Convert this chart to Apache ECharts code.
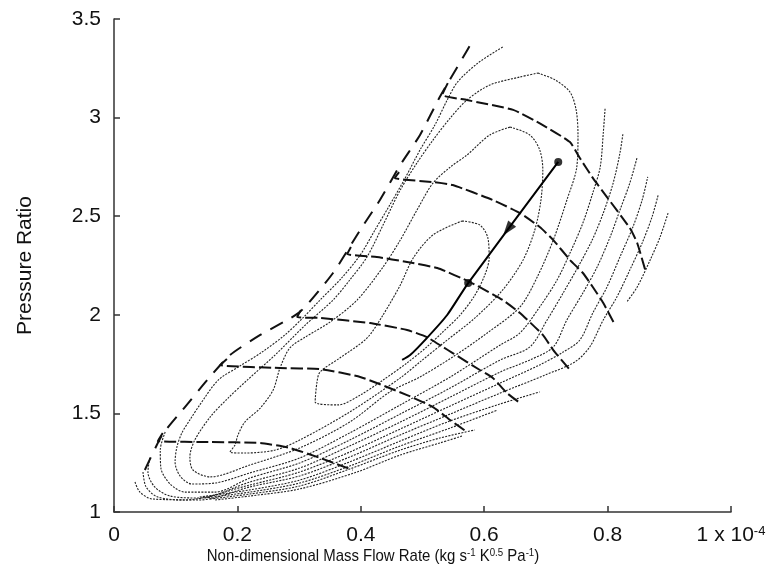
<!DOCTYPE html>
<html>
<head>
<meta charset="utf-8">
<script src="https://cdn.jsdelivr.net/npm/echarts@6/dist/echarts.min.js"></script>
<style>html,body{margin:0;padding:0;background:#fff}#c{width:773px;height:572px}</style>
</head>
<body>
<div id="c"></div>
<script>
// ---- axis ticks ----
const xTicks = [0, 0.2, 0.4, 0.6, 0.8, 1];
const yTicks = [1, 1.5, 2, 2.5, 3, 3.5];

// ---- surge line ----
const surge = [[0.050,1.213],[0.078,1.390],[0.115,1.532],[0.151,1.669],[0.188,1.796],[0.237,1.898],[0.301,2.014],[0.355,2.212],[0.399,2.430],[0.431,2.582],[0.464,2.760],[0.496,2.912],[0.528,3.104],[0.566,3.307],[0.580,3.383]];

// ---- speed lines ----
const speed1 = [[0.541,3.175],[0.532,3.115],[0.572,3.089],[0.647,3.039],[0.695,2.962],[0.739,2.876],[0.755,2.795],[0.776,2.694],[0.799,2.597],[0.836,2.440],[0.848,2.364],[0.861,2.227]];
const speed2 = [[0.462,2.724],[0.455,2.694],[0.517,2.673],[0.549,2.658],[0.614,2.582],[0.658,2.516],[0.690,2.445],[0.712,2.379],[0.739,2.278],[0.760,2.212],[0.776,2.141],[0.793,2.060],[0.812,1.948]];
const speed3 = [[0.384,2.344],[0.378,2.308],[0.426,2.293],[0.475,2.268],[0.524,2.237],[0.577,2.166],[0.630,2.075],[0.658,2.009],[0.695,1.898],[0.712,1.821],[0.739,1.720]];
const speed4 = [[0.303,2.024],[0.297,1.989],[0.334,1.984],[0.415,1.958],[0.475,1.923],[0.507,1.887],[0.533,1.837],[0.549,1.806],[0.593,1.720],[0.614,1.680],[0.637,1.603],[0.658,1.553]];
const speed5 = [[0.183,1.776],[0.172,1.745],[0.269,1.730],[0.334,1.725],[0.399,1.685],[0.475,1.593],[0.517,1.532],[0.545,1.466],[0.572,1.406]];
const speed6 = [[0.079,1.401],[0.071,1.360],[0.156,1.355],[0.237,1.350],[0.285,1.325],[0.334,1.274],[0.387,1.213]];

// ---- operating line (solid) ----
const opLine = [[0.467,1.771],[0.480,1.796],[0.507,1.882],[0.540,1.999],[0.574,2.161],[0.720,2.775]];
const opDots = [[0.574,2.161],[0.720,2.775]];
const opArrow = [[0.638,2.432]];

// ---- efficiency contours (dotted) ----
const effIsland = [[0.564,2.476],[0.593,2.455],[0.606,2.389],[0.608,2.288],[0.601,2.202],[0.585,2.100],[0.561,1.999],[0.533,1.913],[0.507,1.837],[0.475,1.756],[0.436,1.669],[0.399,1.593],[0.363,1.543],[0.326,1.558],[0.329,1.659],[0.334,1.710],[0.366,1.781],[0.410,1.882],[0.436,1.999],[0.464,2.151],[0.485,2.288],[0.517,2.405],[0.564,2.476]];
const effT2 = [[0.642,2.952],[0.674,2.912],[0.690,2.836],[0.695,2.734],[0.692,2.582],[0.682,2.430],[0.663,2.278],[0.630,2.126],[0.585,1.984],[0.536,1.862],[0.496,1.761],[0.464,1.680],[0.382,1.507],[0.301,1.365],[0.261,1.314],[0.212,1.299],[0.188,1.304],[0.196,1.340],[0.201,1.391],[0.212,1.456],[0.237,1.527],[0.258,1.619],[0.269,1.730],[0.285,1.832],[0.310,1.887],[0.350,1.963],[0.394,2.075],[0.436,2.242],[0.464,2.379],[0.491,2.531],[0.517,2.668],[0.545,2.749],[0.572,2.810],[0.609,2.912],[0.642,2.952]];
const effT1 = [[0.687,3.226],[0.715,3.191],[0.739,3.130],[0.749,3.039],[0.752,2.912],[0.750,2.749],[0.734,2.582],[0.712,2.379],[0.686,2.192],[0.658,2.040],[0.605,1.908],[0.549,1.786],[0.496,1.685],[0.447,1.609],[0.382,1.456],[0.301,1.325],[0.220,1.238],[0.156,1.178],[0.128,1.213],[0.123,1.279],[0.131,1.365],[0.156,1.482],[0.185,1.578],[0.216,1.669],[0.261,1.796],[0.310,1.948],[0.355,2.075],[0.382,2.176],[0.410,2.293],[0.436,2.455],[0.464,2.633],[0.491,2.770],[0.517,2.886],[0.545,2.998],[0.572,3.089],[0.609,3.165],[0.658,3.206],[0.687,3.226]];
const effT0 = [[0.630,3.358],[0.590,3.277],[0.557,3.181],[0.540,3.089],[0.520,2.962],[0.496,2.836],[0.472,2.694],[0.447,2.557],[0.423,2.430],[0.399,2.303],[0.369,2.187],[0.334,2.075],[0.306,1.984],[0.277,1.898],[0.240,1.811],[0.204,1.740],[0.169,1.669],[0.139,1.543],[0.123,1.467],[0.110,1.401],[0.102,1.330],[0.099,1.254],[0.107,1.183],[0.126,1.142],[0.164,1.147],[0.220,1.198],[0.301,1.274],[0.382,1.401],[0.464,1.543],[0.545,1.685],[0.626,1.847],[0.658,1.908],[0.690,2.040],[0.718,2.176],[0.739,2.313],[0.760,2.466],[0.776,2.618],[0.788,2.749],[0.793,2.922],[0.796,3.049]];
const effO1 = [[0.083,1.406],[0.075,1.314],[0.076,1.223],[0.091,1.142],[0.115,1.101],[0.164,1.101],[0.220,1.172],[0.301,1.249],[0.382,1.365],[0.464,1.497],[0.545,1.629],[0.626,1.771],[0.674,1.837],[0.702,1.974],[0.728,2.111],[0.752,2.242],[0.775,2.379],[0.793,2.516],[0.809,2.668],[0.820,2.820],[0.825,2.922]];
const effO2 = [[0.058,1.274],[0.055,1.203],[0.066,1.127],[0.091,1.081],[0.139,1.071],[0.220,1.152],[0.301,1.223],[0.382,1.335],[0.464,1.456],[0.545,1.583],[0.626,1.710],[0.674,1.771],[0.712,1.837],[0.734,1.974],[0.760,2.111],[0.783,2.242],[0.804,2.394],[0.820,2.531],[0.836,2.668],[0.848,2.800]];
const effO3 = [[0.047,1.203],[0.052,1.127],[0.071,1.076],[0.115,1.061],[0.220,1.137],[0.301,1.203],[0.382,1.304],[0.464,1.421],[0.545,1.538],[0.626,1.654],[0.690,1.746],[0.728,1.811],[0.755,1.872],[0.776,2.009],[0.799,2.141],[0.820,2.293],[0.841,2.445],[0.856,2.582],[0.865,2.699]];
const effO4 = [[0.034,1.152],[0.042,1.101],[0.062,1.066],[0.139,1.061],[0.220,1.127],[0.301,1.183],[0.382,1.279],[0.464,1.391],[0.545,1.497],[0.626,1.603],[0.699,1.695],[0.747,1.761],[0.771,1.837],[0.793,1.974],[0.815,2.090],[0.836,2.227],[0.856,2.364],[0.872,2.496],[0.882,2.608]];
const effO5 = [[0.139,1.076],[0.220,1.112],[0.301,1.162],[0.382,1.254],[0.464,1.360],[0.545,1.462],[0.626,1.548],[0.690,1.609]];
const effO5b = [[0.898,2.516],[0.885,2.394],[0.869,2.278],[0.848,2.141],[0.831,2.065]];
const effO6 = [[0.147,1.071],[0.220,1.101],[0.301,1.147],[0.382,1.233],[0.464,1.335],[0.545,1.426],[0.620,1.515]];
const effO7 = [[0.156,1.066],[0.220,1.091],[0.301,1.132],[0.382,1.218],[0.464,1.314],[0.528,1.375],[0.585,1.416]];
const effO8 = [[0.164,1.061],[0.220,1.081],[0.301,1.117],[0.394,1.203],[0.464,1.289],[0.528,1.350],[0.564,1.385]];

// ---- texts ----
const xTitle = 'Non-dimensional Mass Flow Rate (kg s{sup|-1} K{sup|0.5} Pa{sup|-1})';
const yTitle = 'Pressure Ratio';

const contours = [effIsland, effT2, effT1, effT0, effO1, effO2, effO3, effO4, effO5, effO5b, effO6, effO7, effO8];
const speeds = [speed1, speed2, speed3, speed4, speed5, speed6];

const FONT = "'Liberation Sans', Arial, sans-serif";

const series = [];
contours.forEach(function (c) {
  series.push({type:'line', data:c, smooth:0.3, showSymbol:false, silent:true,
    lineStyle:{color:'#222', width:1.1, type:[2,1.3]}});
});
speeds.forEach(function (s) {
  series.push({type:'line', data:s, smooth:0.15, showSymbol:false, silent:true,
    lineStyle:{color:'#111', width:2, type:[12,4]}});
});
series.push({type:'line', data:surge, smooth:0.2, showSymbol:false, silent:true,
  lineStyle:{color:'#111', width:2, type:[14,10]}});
series.push({type:'line', data:opLine, smooth:0.2, showSymbol:false, silent:true,
  lineStyle:{color:'#000', width:2}});
series.push({type:'scatter', data:opDots, symbol:'circle', symbolSize:8, silent:true,
  itemStyle:{color:'#000'}});
series.push({type:'scatter', data:opArrow, symbol:'triangle', symbolSize:[10,15], symbolRotate:143, silent:true,
  itemStyle:{color:'#000'}});

const chart = echarts.init(document.getElementById('c'), null, {renderer:'canvas'});
chart.setOption({
  animation:false,
  backgroundColor:'#fff',
  grid:{left:114, right:42, top:19, bottom:60, containLabel:false},
  xAxis:{type:'value', min:xTicks[0], max:xTicks[xTicks.length-1], interval:0.2,
    axisLine:{show:true, lineStyle:{color:'#333', width:1.5}},
    axisTick:{show:true, inside:true, length:6, lineStyle:{color:'#333', width:1.5}},
    splitLine:{show:false},
    axisLabel:{color:'#111', fontSize:21, fontFamily:FONT, margin:13,
      formatter:function(v){ return v === 1 ? '1 x 10{sup|-4}' : String(v); },
      rich:{sup:{fontSize:13, fontFamily:FONT, color:'#111', verticalAlign:'top', lineHeight:12}}}
  },
  yAxis:{type:'value', min:yTicks[0], max:yTicks[yTicks.length-1], interval:0.5,
    axisLine:{show:true, lineStyle:{color:'#333', width:1.5}},
    axisTick:{show:true, inside:true, length:6, lineStyle:{color:'#333', width:1.5}},
    splitLine:{show:false},
    axisLabel:{color:'#111', fontSize:21, fontFamily:FONT, margin:13},
    name:yTitle, nameLocation:'middle', nameGap:78, nameRotate:90,
    nameTextStyle:{color:'#111', fontSize:21, fontFamily:FONT}
  },
  graphic:[{type:'text', x:373, y:556, scaleX:0.88, silent:true,
    style:{text:xTitle, fill:'#111', font:"17px 'Liberation Sans', Arial, sans-serif",
      fontSize:17, fontFamily:FONT, align:'center', verticalAlign:'middle',
      rich:{sup:{fontSize:11, fontFamily:FONT, fill:'#111', verticalAlign:'top', lineHeight:9}}}}],
  series:series
});
</script>
</body>
</html>
